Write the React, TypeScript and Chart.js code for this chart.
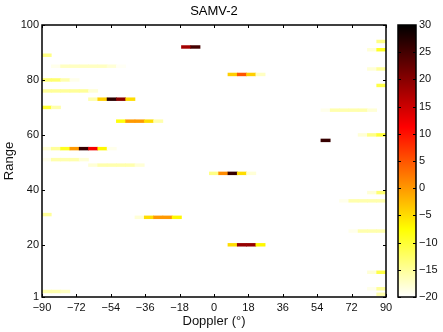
import React, { useEffect, useRef } from "react";
import { Chart, registerables } from "chart.js";

Chart.register(...registerables);

const chartTitle = "SAMV-2";
const xTitle = "Doppler (°)";
const yTitle = "Range";
const dopplerTicks = [-90, -72, -54, -36, -18, 0, 18, 36, 54, 72, 90];
const rangeTicks = [1, 20, 40, 60, 80, 100];
const colorTicks = [-20, -15, -10, -5, 0, 5, 10, 15, 20, 25, 30];
const dopplerMin = -90;
const dopplerMax = 90;
const dopplerBinCount = 37; // image columns across the Doppler span
const levelMin = -20;
const levelMax = 30;

// one entry per image row that has visible energy
const rangeRows = [92, 89, 85, 80, 76, 73, 70, 65, 55, 51, 49, 46, 31, 30, 20, 58, 94, 91, 84, 82, 78, 69, 60, 39, 36, 25, 10, 4, 2, 3];
const startBins = [15, 0, 1, 0, 0, 5, 0, 8, 0, 0, 5, 18, 0, 10, 20, 30, 36, 35, 35, 20, 36, 30, 34, 35, 32, 33, 35, 35, 36, 0];
const levelsDb = [
  [18, 25],
  [-14],
  [-19, -17, -17, -17, -17, -17, -18, -19.5],
  [-13, -13, -16, -19],
  [-15, -15, -15, -15, -15, -18],
  [-16, -4, 27, 20, -5],
  [-10, -16],
  [-8, 0, 0, -5, -16],
  [-18, -15, -9, 0, 26, 12, -7, -19],
  [-19, -16, -16, -16, -18],
  [-18, -16, -16, -16, -16, -18],
  [-14, 1, 26, -5, -18],
  [-15],
  [-18, -5, 0, 0, -7],
  [-5, 19, 19, -7],
  [26],
  [-14],
  [-18, -9],
  [-18, -15],
  [-4, 5, -4, -17],
  [-11],
  [-19, -16, -16, -16, -16, -18],
  [-18, -14, -10],
  [-18, -13],
  [-19, -16, -16, -16, -16],
  [-19, -16, -16, -16],
  [-18, -11],
  [-19, -15],
  [-16],
  [-16, -16, -17],
];

const FONT = "'Liberation Sans', Arial, Helvetica, sans-serif";

function hot(v: number): string {
  const s = Math.min(1, Math.max(0, (levelMax - v) / (levelMax - levelMin)));
  const r = Math.min(1, s / 0.375);
  const g = Math.min(1, Math.max(0, (s - 0.375) / 0.375));
  const b = Math.min(1, Math.max(0, (s - 0.75) / 0.25));
  return `rgb(${Math.round(r * 255)},${Math.round(g * 255)},${Math.round(b * 255)})`;
}

const fmt = (v: number) => (v < 0 ? "\u2212" + Math.abs(v) : String(v));

const mainFrame = {
  id: "mainFrame",
  afterDatasetsDraw(chart: any) {
    const { ctx, chartArea: a, scales } = chart;
    ctx.save();
    ctx.strokeStyle = "#000";
    ctx.lineWidth = 1;
    ctx.beginPath();
    const tl = 3;
    dopplerTicks.forEach((v) => {
      const x = Math.round(scales.x.getPixelForValue(v)) + 0.5;
      ctx.moveTo(x, a.bottom);
      ctx.lineTo(x, a.bottom - tl);
      ctx.moveTo(x, a.top);
      ctx.lineTo(x, a.top + tl);
    });
    rangeTicks.forEach((v) => {
      const y = Math.round(scales.y.getPixelForValue(v)) + 0.5;
      ctx.moveTo(a.left, y);
      ctx.lineTo(a.left + tl, y);
      ctx.moveTo(a.right, y);
      ctx.lineTo(a.right - tl, y);
    });
    ctx.stroke();
    ctx.lineWidth = 1.5;
    ctx.strokeRect(a.left, a.top, a.right - a.left, a.bottom - a.top);
    ctx.restore();
  },
};

const barFrame = {
  id: "barFrame",
  beforeDatasetsDraw(chart: any) {
    const { ctx, chartArea: a, scales } = chart;
    const ys = scales.y;
    const y0 = ys.getPixelForValue(levelMin);
    const y1 = ys.getPixelForValue(levelMax);
    const g = ctx.createLinearGradient(0, y0, 0, y1);
    [levelMin, -7.5, 11.25, levelMax].forEach((v) =>
      g.addColorStop((v - levelMin) / (levelMax - levelMin), hot(v))
    );
    chart.getDatasetMeta(0).data.forEach((el: any) => {
      el.options.backgroundColor = g;
    });
  },
  afterDatasetsDraw(chart: any) {
    const { ctx, chartArea: a, scales } = chart;
    ctx.save();
    ctx.strokeStyle = "#000";
    ctx.lineWidth = 1;
    ctx.beginPath();
    const tl = 3;
    colorTicks.forEach((v) => {
      const y = Math.round(scales.y.getPixelForValue(v)) + 0.5;
      ctx.moveTo(a.left, y);
      ctx.lineTo(a.left + tl, y);
      ctx.moveTo(a.right, y);
      ctx.lineTo(a.right - tl, y);
    });
    ctx.stroke();
    ctx.lineWidth = 1.5;
    ctx.strokeRect(a.left, a.top, a.right - a.left, a.bottom - a.top);
    ctx.restore();
  },
};

export default function App() {
  const mainRef = useRef<HTMLCanvasElement>(null);
  const barRef = useRef<HTMLCanvasElement>(null);

  useEffect(() => {
    Chart.defaults.font.family = FONT;
    Chart.defaults.color = "#111";

    const binWidth = (dopplerMax - dopplerMin) / dopplerBinCount;
    const cells: any[] = [];
    rangeRows.forEach((r, i) => {
      levelsDb[i].forEach((v, j) => {
        const lo = dopplerMin + (startBins[i] + j) * binWidth;
        cells.push({ y: r, x: [lo, lo + binWidth], v });
      });
    });

    const main = new Chart(mainRef.current as HTMLCanvasElement, {
      type: "bar",
      data: {
        datasets: [
          {
            data: cells,
            backgroundColor: (ctx: any) => hot(ctx.raw && typeof ctx.raw.v === "number" ? ctx.raw.v : levelMin),
            borderWidth: 0,
            barThickness: 2.8,
            grouped: false,
          } as any,
        ],
      },
      options: {
        indexAxis: "y",
        animation: false,
        responsive: false,
        maintainAspectRatio: false,
        layout: { padding: { left: 0, right: 57, top: 0, bottom: 0 } },
        plugins: {
          legend: { display: false },
          tooltip: { enabled: false },
          title: {
            display: true,
            text: chartTitle,
            fullSize: false,
            color: "#000",
            font: { size: 13, weight: "normal" },
            padding: { top: 4, bottom: 5.4 },
          },
        },
        scales: {
          x: {
            type: "linear",
            min: dopplerMin,
            max: dopplerMax,
            afterBuildTicks: (s: any) => {
              s.ticks = dopplerTicks.map((v) => ({ value: v }));
            },
            afterFit: (s: any) => {
              s.height = 35;
            },
            ticks: {
              callback: (v: any) => fmt(Number(v)),
              font: { size: 11 },
              padding: 4,
              maxRotation: 0,
              autoSkip: false,
            },
            grid: { display: false, drawTicks: false },
            border: { display: false },
            title: {
              display: true,
              text: xTitle,
              font: { size: 13 },
              padding: { top: 0, bottom: 3 },
            },
          },
          y: {
            type: "linear",
            min: 1,
            max: 100,
            offset: false,
            reverse: false,
            afterBuildTicks: (s: any) => {
              s.ticks = rangeTicks.map((v) => ({ value: v }));
            },
            afterFit: (s: any) => {
              s.width = 42;
            },
            ticks: {
              callback: (v: any) => fmt(Number(v)),
              font: { size: 11 },
              padding: 3,
              autoSkip: false,
            },
            grid: { display: false, drawTicks: false },
            border: { display: false },
            title: {
              display: true,
              text: yTitle,
              font: { size: 13 },
              padding: { top: 2, bottom: 0 },
            },
          },
        } as any,
      } as any,
      plugins: [mainFrame],
    });

    const bar = new Chart(barRef.current as HTMLCanvasElement, {
      type: "bar",
      data: {
        labels: ["level"],
        datasets: [
          {
            data: [[levelMin, levelMax]],
            backgroundColor: "#fff",
            borderWidth: 0,
            barPercentage: 1,
            categoryPercentage: 1,
          } as any,
        ],
      },
      options: {
        animation: false,
        responsive: false,
        maintainAspectRatio: false,
        layout: { padding: { left: 13, right: 0, top: 25, bottom: 35 } },
        plugins: { legend: { display: false }, tooltip: { enabled: false } },
        scales: {
          x: { display: false },
          y: {
            position: "right",
            min: levelMin,
            max: levelMax,
            afterBuildTicks: (s: any) => {
              s.ticks = colorTicks.map((v) => ({ value: v }));
            },
            afterFit: (s: any) => {
              s.width = 29;
            },
            ticks: {
              callback: (v: any) => fmt(Number(v)),
              font: { size: 11 },
              padding: 3,
              autoSkip: false,
            },
            grid: { display: false, drawTicks: false },
            border: { display: false },
          },
        } as any,
      } as any,
      plugins: [barFrame],
    });

    return () => {
      main.destroy();
      bar.destroy();
    };
  }, []);

  return (
    <div style={{ position: "absolute", left: 0, top: 0, width: 443, height: 332, background: "#fff" }}>
      <canvas
        ref={mainRef}
        width={443}
        height={332}
        style={{ position: "absolute", left: 0, top: 0, width: 443, height: 332 }}
      />
      <canvas
        ref={barRef}
        width={60}
        height={332}
        style={{ position: "absolute", left: 385, top: 0, width: 60, height: 332 }}
      />
    </div>
  );
}
